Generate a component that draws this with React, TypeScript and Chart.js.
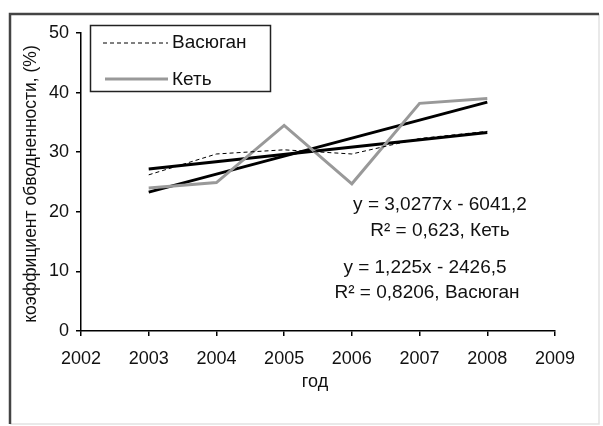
import React, { useEffect, useRef } from "react";
import { Chart, registerables } from "chart.js";
Chart.register(...registerables);

const years = [2003, 2004, 2005, 2006, 2007, 2008];
const vasyugan = [26.2, 29.7, 30.4, 29.7, 32.3, 33.5];
const ket = [24.0, 24.9, 34.5, 24.7, 38.2, 39.0];
const trendYears = [2003, 2008];
const ketTrend = [23.3, 38.4];
const vasyuganTrend = [27.2, 33.3];
const xTicks = [2002, 2003, 2004, 2005, 2006, 2007, 2008, 2009];
const yTicks = [0, 10, 20, 30, 40, 50];
const seriesNames = ["Васюган", "Кеть"];
const annotations = [
  "y = 3,0277x - 6041,2",
  "R² = 0,623, Кеть",
  "y = 1,225x - 2426,5",
  "R² = 0,8206, Васюган",
];
const yTitle = "коэффициент обводненности, (%)";
const xTitle = "год";

const FONT = "'Liberation Sans', Arial, sans-serif";

const toPts = (xs: number[], ys: number[]) => xs.map((x, i) => ({ x, y: ys[i] }));

const decorPlugin = {
  id: "decor",
  beforeDraw(chart: any) {
    const ctx = chart.ctx;
    ctx.save();
    ctx.fillStyle = "#fff";
    ctx.fillRect(0, 0, chart.width, chart.height);
    ctx.strokeStyle = "#e2e2e2";
    ctx.lineWidth = 1.5;
    ctx.beginPath();
    ctx.moveTo(599, 14);
    ctx.lineTo(599, 424);
    ctx.lineTo(10, 424);
    ctx.stroke();
    ctx.strokeStyle = "#444";
    ctx.lineWidth = 2.5;
    ctx.beginPath();
    ctx.moveTo(10, 424);
    ctx.lineTo(10, 14);
    ctx.lineTo(599, 14);
    ctx.stroke();
    ctx.restore();
  },
  afterDraw(chart: any) {
    const ctx = chart.ctx;
    ctx.save();
    ctx.strokeStyle = "#222";
    ctx.lineWidth = 1.5;
    ctx.strokeRect(90.5, 25.5, 180, 66);
    ctx.strokeStyle = "#000";
    ctx.lineWidth = 1;
    ctx.setLineDash([4, 3]);
    ctx.beginPath();
    ctx.moveTo(103, 43);
    ctx.lineTo(168, 43);
    ctx.stroke();
    ctx.setLineDash([]);
    ctx.strokeStyle = "#999";
    ctx.lineWidth = 3;
    ctx.beginPath();
    ctx.moveTo(105, 79);
    ctx.lineTo(168, 79);
    ctx.stroke();
    ctx.fillStyle = "#111";
    ctx.font = `19px ${FONT}`;
    ctx.textAlign = "left";
    ctx.textBaseline = "middle";
    ctx.fillText(seriesNames[0], 172, 43);
    ctx.fillText(seriesNames[1], 172, 80);
    ctx.font = `19px ${FONT}`;
    ctx.textAlign = "center";
    ctx.fillText(annotations[0], 440, 205);
    ctx.fillText(annotations[1], 440, 231);
    ctx.fillText(annotations[2], 425, 268);
    ctx.fillText(annotations[3], 427, 293);
    ctx.font = `18px ${FONT}`;
    ctx.fillText(xTitle, 315, 382);
    ctx.font = `17.5px ${FONT}`;
    ctx.translate(31, 184);
    ctx.rotate(-Math.PI / 2);
    ctx.fillText(yTitle, 0, 0);
    ctx.restore();
  },
};

export default function App() {
  const ref = useRef<HTMLCanvasElement>(null);
  useEffect(() => {
    if (!ref.current) return;
    const chart = new Chart(ref.current, {
      type: "scatter",
      data: {
        datasets: [
          {
            label: seriesNames[0],
            data: toPts(years, vasyugan),
            showLine: true,
            borderColor: "#000",
            borderWidth: 1,
            borderDash: [4, 3],
            pointRadius: 0,
            tension: 0,
          },
          {
            label: seriesNames[1],
            data: toPts(years, ket),
            showLine: true,
            borderColor: "#999",
            borderWidth: 3,
            pointRadius: 0,
            tension: 0,
          },
          {
            label: "trend Кеть",
            data: toPts(trendYears, ketTrend),
            showLine: true,
            borderColor: "#000",
            borderWidth: 3,
            pointRadius: 0,
          },
          {
            label: "trend Васюган",
            data: toPts(trendYears, vasyuganTrend),
            showLine: true,
            borderColor: "#000",
            borderWidth: 3,
            pointRadius: 0,
          },
        ],
      },
      options: {
        animation: false,
        responsive: false,
        devicePixelRatio: 1,
        layout: { padding: { left: 36, top: 33, right: 48, bottom: 35 } },
        plugins: { legend: { display: false }, tooltip: { enabled: false } },
        scales: {
          x: {
            type: "linear",
            min: xTicks[0],
            max: xTicks[xTicks.length - 1],
            afterBuildTicks: (axis: any) => {
              axis.ticks = xTicks.map((v) => ({ value: v }));
            },
            afterFit: (axis: any) => {
              axis.height = 60;
            },
            grid: { drawOnChartArea: false, tickLength: 5, color: "#000", lineWidth: 1.5 },
            border: { color: "#000", width: 1.5 },
            ticks: {
              color: "#111",
              font: { family: FONT, size: 18 },
              padding: 12,
              maxRotation: 0,
              callback: (v: any) => String(v),
            },
          },
          y: {
            min: yTicks[0],
            max: yTicks[yTicks.length - 1],
            afterBuildTicks: (axis: any) => {
              axis.ticks = yTicks.map((v) => ({ value: v }));
            },
            afterFit: (axis: any) => {
              axis.width = 45;
            },
            grid: { drawOnChartArea: false, tickLength: 5, color: "#000", lineWidth: 1.5 },
            border: { color: "#000", width: 1.5 },
            ticks: {
              color: "#111",
              font: { family: FONT, size: 18 },
              padding: 7,
            },
          },
        },
      },
      plugins: [decorPlugin],
    });
    return () => chart.destroy();
  }, []);
  return (
    <div style={{ position: "fixed", left: 0, top: 0, width: 603, height: 426, background: "#fff" }}>
      <canvas ref={ref} width={603} height={426} style={{ display: "block" }} />
    </div>
  );
}
